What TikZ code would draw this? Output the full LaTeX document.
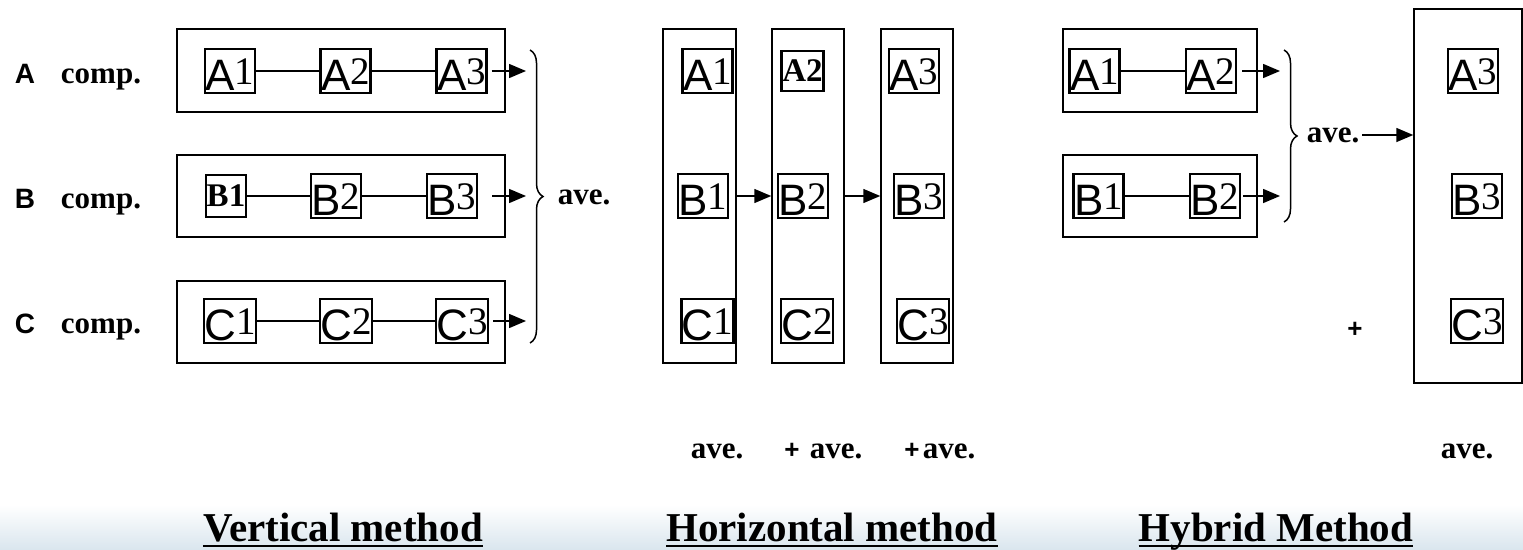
\documentclass[tikz,border=0pt]{standalone}
\usepackage{fontspec}
\setmainfont{Liberation Serif}
\setsansfont{Liberation Sans}
\usetikzlibrary{arrows.meta,decorations.pathreplacing,positioning}
\newcommand{\mcell}[2]{{\sffamily\fontsize{44}{44}\selectfont #1}\raisebox{5.5pt}{\fontsize{39}{39}\selectfont #2}}
\newcommand{\bcell}[1]{{\bfseries\fontsize{33}{33}\selectfont #1}}
\newcommand{\rowlab}[1]{{\sffamily\fontsize{28}{28}\selectfont #1}}
\newcommand{\mplus}{{\sffamily\bfseries\fontsize{26}{26}\selectfont +}}

\begin{document}
\begin{tikzpicture}[x=1pt,y=-1pt]
\tikzstyle{cell}=[draw,line width=2.4pt,inner xsep=0.5pt,inner ysep=3pt,text height=38pt,text depth=0pt]
\tikzstyle{boldcell}=[draw,line width=2.4pt,inner xsep=1pt,minimum height=42pt]
\tikzstyle{frame}=[draw,line width=1.5pt,inner sep=0pt]
\tikzstyle{link}=[line width=1.5pt]
\tikzstyle{arr}=[line width=1.5pt,-{Triangle[length=17pt,width=14pt]}]
\tikzstyle{txt}=[font=\bfseries\fontsize{31}{31}\selectfont,inner sep=0pt]
\tikzstyle{title}=[font=\bfseries\fontsize{41}{41}\selectfont,inner sep=0pt,anchor=base]
\tikzstyle{curly}=[line width=1.5pt,decorate,decoration={brace,amplitude=13pt}]

\useasboundingbox (0,0) rectangle (1523,549);
\shade[top color=white,bottom color={rgb,255:red,218;green,230;blue,238}] (0,505) rectangle (1523,549);

% vertical method
\node[txt,anchor=base] (lA) at (25,83) {\rowlab{A}};
\node[txt,anchor=base] (lB) at (25,208) {\rowlab{B}};
\node[txt,anchor=base] (lC) at (25,333) {\rowlab{C}};
\node[txt,anchor=base] (cA) at (101,83) {comp.};
\node[txt,anchor=base] (cB) at (101,208) {comp.};
\node[txt,anchor=base] (cC) at (101,333) {comp.};

\node[frame,minimum width=328pt,minimum height=83pt] (vA) at (341,70.5) {};
\node[frame,minimum width=328pt,minimum height=82pt] (vB) at (341,196) {};
\node[frame,minimum width=328pt,minimum height=82pt] (vC) at (341,322) {};

\node[cell] (vA1) at (230,71) {\mcell{A}{1}};
\node[cell] (vA2) at (345.5,71) {\mcell{A}{2}};
\node[cell] (vA3) at (461.5,71) {\mcell{A}{3}};
\node[boldcell] (vB1) at (226,196) {\bcell{B1}};
\node[cell] (vB2) at (336,196) {\mcell{B}{2}};
\node[cell] (vB3) at (452,196) {\mcell{B}{3}};
\node[cell] (vC1) at (230,321) {\mcell{C}{1}};
\node[cell] (vC2) at (346,321) {\mcell{C}{2}};
\node[cell] (vC3) at (462,321) {\mcell{C}{3}};

\draw[link] (vA1.east) -- (vA2.west);
\draw[link] (vA2.east) -- (vA3.west);
\draw[link] (vB1.east) -- (vB2.west);
\draw[link] (vB2.east) -- (vB3.west);
\draw[link] (vC1.east) -- (vC2.west);
\draw[link] (vC2.east) -- (vC3.west);

\coordinate (vtA) at (526,71);
\coordinate (vtB) at (526,196);
\coordinate (vtC) at (526,321);
\draw[arr] (vA3.east) +(4,0) -- (vtA);
\draw[arr] (vB3.east) +(14,0) -- (vtB);
\draw[arr] (vC3.east) +(4,0) -- (vtC);
\coordinate (vbt) at (530,50);
\coordinate (vbb) at (530,343);
\draw[curly] (vbt) -- (vbb);
\node[txt] (vave) at (584,197) {ave.};

% horizontal method
\node[frame,minimum width=73pt,minimum height=334pt] (h1) at (699.5,196) {};
\node[frame,minimum width=72pt,minimum height=334pt] (h2) at (808,196) {};
\node[frame,minimum width=72pt,minimum height=334pt] (h3) at (917,196) {};

\node[cell] (hA1) at (707.5,71) {\mcell{A}{1}};
\node[boldcell,minimum height=40pt] (hA2) at (802.5,71) {\bcell{A2}};
\node[cell] (hA3) at (914,71) {\mcell{A}{3}};
\node[cell] (hB1) at (703,196) {\mcell{B}{1}};
\node[cell] (hB2) at (803,196) {\mcell{B}{2}};
\node[cell] (hB3) at (919,196) {\mcell{B}{3}};
\node[cell] (hC1) at (707.5,321) {\mcell{C}{1}};
\node[cell] (hC2) at (807,321) {\mcell{C}{2}};
\node[cell] (hC3) at (923,321) {\mcell{C}{3}};

\draw[arr] (h1.east) -- (h2.west);
\draw[arr] (h2.east) -- (h3.west);

\node[txt,anchor=base] (have1) at (717,458) {ave.};
\node[txt,anchor=base] (hp2) at (792,458) {\mplus};
\node[txt,anchor=base] (have2) at (836,458) {ave.};
\node[txt,anchor=base] (hp3) at (912,458) {\mplus};
\node[txt,anchor=base] (have3) at (949,458) {ave.};

% hybrid method
\node[frame,minimum width=194pt,minimum height=83pt] (yA) at (1160,70.5) {};
\node[frame,minimum width=194pt,minimum height=82pt] (yB) at (1160,196) {};
\node[frame,minimum width=108pt,minimum height=374pt] (big) at (1468,196) {};

\node[cell] (yA1) at (1094.5,71) {\mcell{A}{1}};
\node[cell] (yA2) at (1211,71) {\mcell{A}{2}};
\node[cell] (yB1) at (1098.5,196) {\mcell{B}{1}};
\node[cell] (yB2) at (1215,196) {\mcell{B}{2}};
\node[cell] (yA3) at (1473,71) {\mcell{A}{3}};
\node[cell] (yB3) at (1477,196) {\mcell{B}{3}};
\node[cell] (yC3) at (1477,321) {\mcell{C}{3}};

\draw[link] (yA1.east) -- (yA2.west);
\draw[link] (yB1.east) -- (yB2.west);
\coordinate (ytA) at (1280,71);
\coordinate (ytB) at (1280,196);
\draw[arr] (yA2.east) +(5,0) -- (ytA);
\draw[arr] (yB2.east) +(2,0) -- (ytB);
\coordinate (ybt) at (1284,50);
\coordinate (ybb) at (1284,222);
\draw[curly] (ybt) -- (ybb);
\node[txt] (yave) at (1333,135) {ave.};
\draw[arr] ([xshift=3pt]yave.east) -- (yave.east -| big.west);

\node[txt] (yp) at (1355,330) {\mplus};
\node[txt,anchor=base] (yave2) at (1467,458) {ave.};

% titles
\node[title] (tv) at (343,541) {Vertical method};
\node[title] (th) at (832,541) {Horizontal method};
\node[title] (ty) at (1276,541) {Hybrid Method};
\foreach \t in {tv,th,ty}
  \draw[line width=2.5pt] ([yshift=-5pt]\t.base west) -- ([yshift=-5pt]\t.base east);
\end{tikzpicture}
\end{document}
